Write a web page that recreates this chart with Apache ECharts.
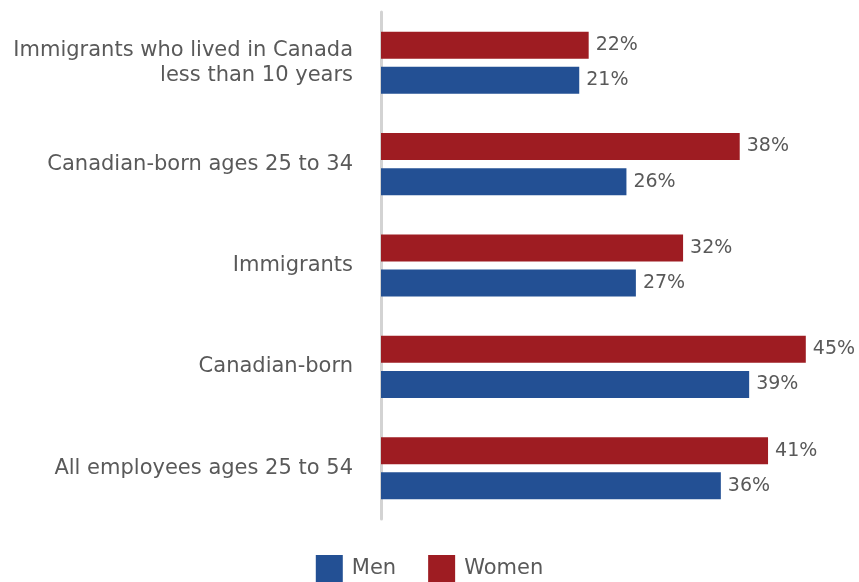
<!DOCTYPE html>
<html>
<head>
<meta charset="utf-8">
<script src="https://cdn.jsdelivr.net/npm/echarts@6/dist/echarts.min.js"></script>
<style>
  html, body { margin: 0; padding: 0; background: #fff; }
  #chart { width: 859px; height: 582px; }
</style>
</head>
<body>
<div id="chart"></div>
<script>
    // categories top to bottom
    var categories = [
        'Immigrants who lived in Canada\nless than 10 years',
        'Canadian-born ages 25 to 34',
        'Immigrants',
        'Canadian-born',
        'All employees ages 25 to 54'
    ];
    var women = [22, 38, 32, 45, 41];
    var men = [21, 26, 27, 39, 36];

    var textColor = '#595959';
    var fontName = 'DejaVu Sans';

    var chart = echarts.init(document.getElementById('chart'));

    var option = {
        animation: false,
        legend: {
            data: ['Men', 'Women'],
            bottom: 0,
            left: 'center',
            padding: 0,
            itemWidth: 27,
            itemHeight: 27,
            itemGap: 32,
            icon: 'rect',
            textStyle: { color: textColor, fontSize: 21, fontFamily: fontName, padding: [0, 0, 0, 4] }
        },
        grid: {
            left: 381,
            top: 12,
            width: 472,
            height: 507
        },
        xAxis: {
            type: 'value',
            min: 0,
            max: 50,
            show: false
        },
        yAxis: {
            type: 'category',
            data: categories,
            inverse: true,
            axisLine: { show: true, lineStyle: { color: '#d3d3d3', width: 3 } },
            axisTick: { show: false },
            axisLabel: {
                color: textColor,
                fontSize: 21,
                fontFamily: fontName,
                margin: 28,
                lineHeight: 25,
                align: 'right'
            }
        },
        series: [
            {
                name: 'Women',
                type: 'bar',
                data: women,
                barWidth: 27,
                barGap: '30%',
                itemStyle: { color: '#9e1c22' },
                label: {
                    show: true,
                    position: 'right',
                    distance: 7,
                    formatter: '{c}%',
                    color: textColor,
                    fontSize: 19,
                    fontFamily: fontName
                }
            },
            {
                name: 'Men',
                type: 'bar',
                data: men,
                barWidth: 27,
                barGap: '30%',
                itemStyle: { color: '#235094' },
                label: {
                    show: true,
                    position: 'right',
                    distance: 7,
                    formatter: '{c}%',
                    color: textColor,
                    fontSize: 19,
                    fontFamily: fontName
                }
            }
        ]
    };

    chart.setOption(option);
</script>
</body>
</html>
